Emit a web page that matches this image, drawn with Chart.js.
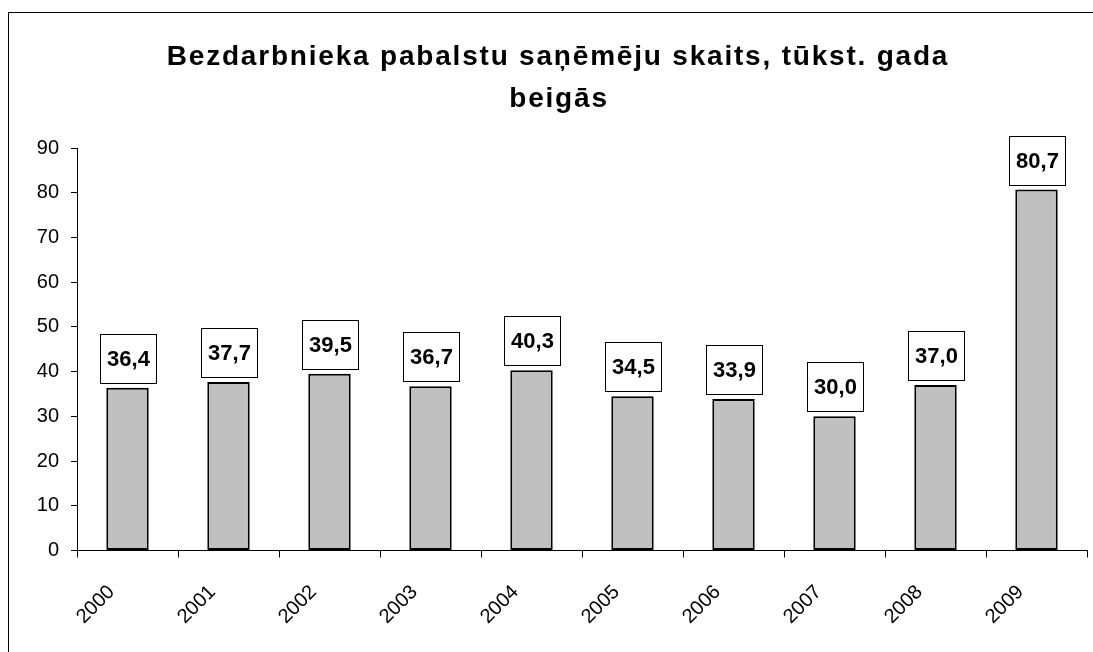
<!DOCTYPE html>
<html>
<head>
<meta charset="utf-8">
<title>Bezdarbnieka pabalstu saņēmēju skaits</title>
<script src="https://cdn.jsdelivr.net/npm/chart.js@4/dist/chart.umd.min.js"></script>
<style>
  html, body { margin: 0; padding: 0; background: #fff; }
  canvas { display: block; }
</style>
</head>
<body>
<canvas id="chart" width="1093" height="652"></canvas>
<script>
// chart data
const years = ['2000', '2001', '2002', '2003', '2004', '2005', '2006', '2007', '2008', '2009'];
const recipients = [36.4, 37.7, 39.5, 36.7, 40.3, 34.5, 33.9, 30.0, 37.0, 80.7];
const yTicks = [0, 10, 20, 30, 40, 50, 60, 70, 80, 90];
const titleLines = ['Bezdarbnieka pabalstu saņēmēju skaits, tūkst. gada', 'beigās'];

const FONT = "'Liberation Sans', Arial, sans-serif";

// white background + outer frame (frame runs off the right and bottom edges)
const framePlugin = {
    id: 'frame',
    beforeDraw(chart) {
        const ctx = chart.ctx;
        ctx.save();
        ctx.fillStyle = '#fff';
        ctx.fillRect(0, 0, chart.width, chart.height);
        ctx.strokeStyle = '#000';
        ctx.lineWidth = 1;
        ctx.strokeRect(8.5, 12.5, chart.width + 20, chart.height + 20);
        ctx.restore();
    }
};

// two-line bold title, a bit letter-spaced like the original
const titlePlugin = {
    id: 'bigTitle',
    afterDraw(chart) {
        const ctx = chart.ctx;
        ctx.save();
        ctx.font = 'bold 28px ' + FONT;
        ctx.fillStyle = '#000';
        ctx.textAlign = 'center';
        ctx.textBaseline = 'middle';
        if ('letterSpacing' in ctx) ctx.letterSpacing = '1.8px';
        ctx.fillText(titleLines[0], 558, 57);
        ctx.fillText(titleLines[1], 559, 99);
        ctx.restore();
    }
};

// boxed value labels above each bar
const boxLabels = {
    id: 'boxLabels',
    afterDatasetsDraw(chart) {
        const ctx = chart.ctx;
        const meta = chart.getDatasetMeta(0);
        ctx.save();
        ctx.font = 'bold 22px ' + FONT;
        ctx.textAlign = 'center';
        ctx.textBaseline = 'middle';
        meta.data.forEach((bar, i) => {
            const w = 56, h = 49;
            const x = Math.round(bar.x - w / 2) + 0.5;
            const y = Math.round(bar.y - 5 - h) + 0.5;
            ctx.fillStyle = '#fff';
            ctx.fillRect(x, y, w, h);
            ctx.strokeStyle = '#000';
            ctx.lineWidth = 1;
            ctx.strokeRect(x, y, w, h);
            ctx.fillStyle = '#000';
            ctx.fillText(recipients[i].toFixed(1).replace('.', ','), x + w / 2, y + h / 2 + 1);
        });
        ctx.restore();
    }
};

new Chart(document.getElementById('chart'), {
    type: 'bar',
    data: {
        labels: years,
        datasets: [{
            data: recipients,
            backgroundColor: '#c0c0c0',
            borderColor: '#000',
            borderWidth: 2,
            borderSkipped: false,
            barPercentage: 0.42,
            categoryPercentage: 1
        }]
    },
    options: {
        responsive: false,
        animation: false,
        devicePixelRatio: 1,
        layout: { padding: { left: 8, top: 148, right: 6, bottom: 0 } },
        plugins: {
            legend: { display: false },
            tooltip: { enabled: false },
            title: { display: false }
        },
        scales: {
            x: {
                grid: {
                    offset: true,
                    drawOnChartArea: false,
                    drawTicks: true,
                    tickLength: 7,
                    tickColor: '#000'
                },
                border: { color: '#000', width: 1 },
                ticks: {
                    color: '#000',
                    font: { family: FONT, size: 20 },
                    minRotation: 45,
                    maxRotation: 45,
                    padding: 23,
                    labelOffset: -16
                },
                afterFit(scale) { scale.height = 101.5; }
            },
            y: {
                min: 0,
                max: 90,
                grid: {
                    drawOnChartArea: false,
                    drawTicks: true,
                    tickLength: 6,
                    tickColor: '#000'
                },
                border: { color: '#000', width: 1 },
                ticks: {
                    color: '#000',
                    font: { family: FONT, size: 20 },
                    padding: 12,
                    stepSize: 10,
                    callback: (v) => yTicks.includes(v) ? String(v) : ''
                },
                afterFit(scale) { scale.width = 69; }
            }
        }
    },
    plugins: [framePlugin, titlePlugin, boxLabels]
});
</script>
</body>
</html>
